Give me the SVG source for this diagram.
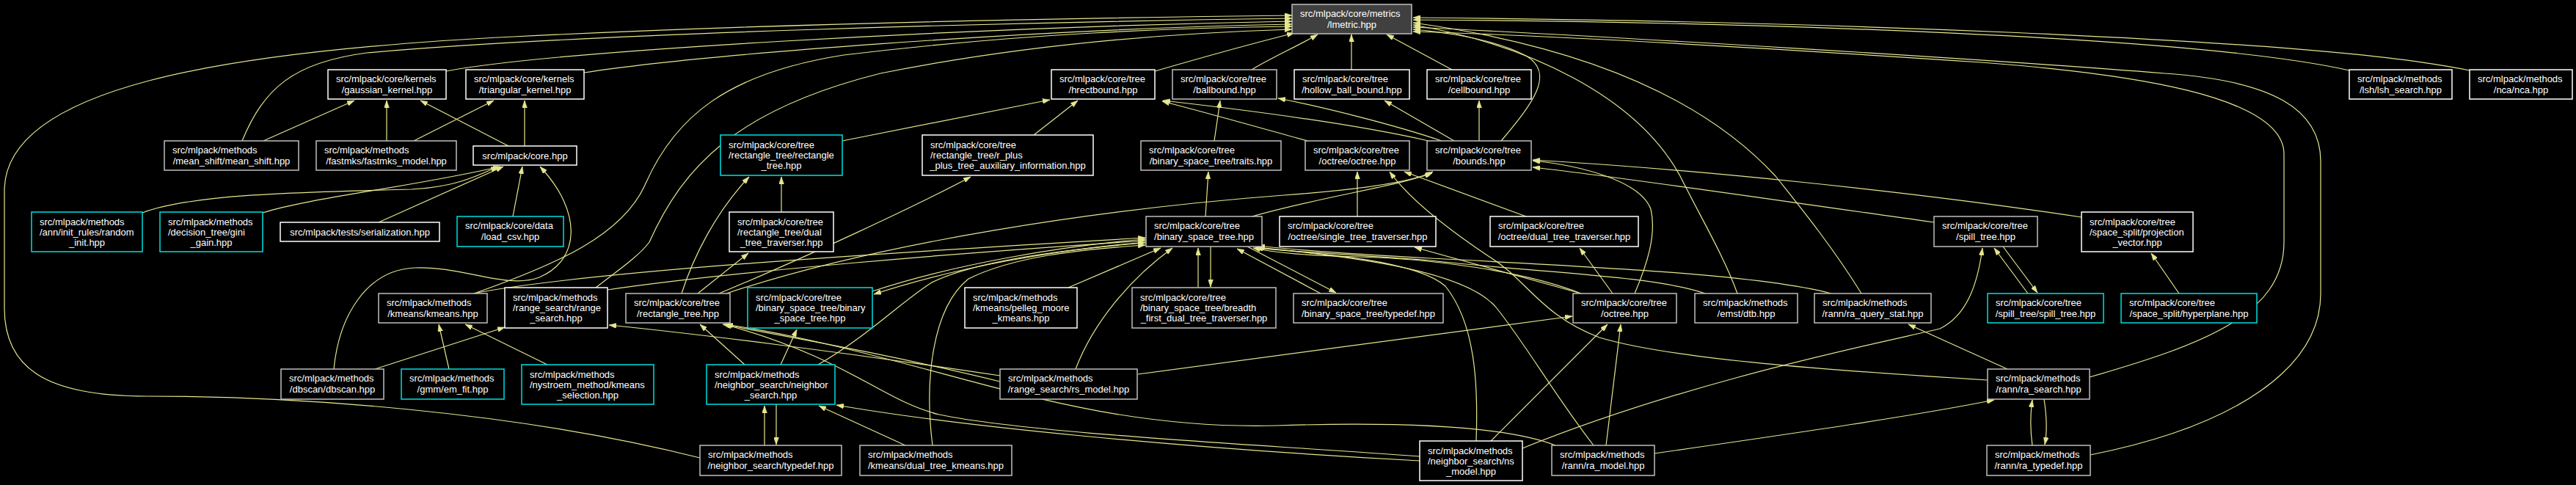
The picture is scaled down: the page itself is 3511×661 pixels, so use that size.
<svg xmlns="http://www.w3.org/2000/svg" width="3511" height="661" viewBox="0 0 3511 661">
<defs>
<marker id="a" viewBox="0 0 10 7" refX="10" refY="3.5" markerWidth="10" markerHeight="7" markerUnits="userSpaceOnUse" orient="auto"><path d="M0,0 L10,3.5 L0,7 z" fill="#e6e68f" stroke="#e6e68f" stroke-width="0.5"/></marker>
<style>
.node rect{fill:#000;stroke:#ffffff;stroke-width:1.5}
.node.g rect{stroke:#bfbfbf}
.node.c rect{stroke:#00e0e0}
.node.root rect{fill:#404040;stroke:#bfbfbf}
text{font-family:"Liberation Sans",Arial,Helvetica,sans-serif;font-size:13px;fill:#ffffff}
text.m{text-anchor:middle}
#edges path{fill:none;stroke:#e6e68f;stroke-width:1.2;marker-end:url(#a)}
</style>
</defs>
<rect x="0" y="0" width="3511" height="661" fill="#000"/>
<g id="edges">
<path d="M608,97 C750,70 1300,38 1761,29"/>
<path d="M796,99 C950,75 1400,40 1761,33"/>
<path d="M330,192 C360,120 400,85 500,72 C800,45 1400,30 1761,25"/>
<path d="M954,624 C700,560 400,540 200,540 C60,540 6,500 6,420 L6,260 C6,120 300,70 700,50 C1100,30 1500,24 1761,21"/>
<path d="M1574,97 C1650,75 1720,56 1764,45"/>
<path d="M1706,95 C1730,80 1770,62 1796,47"/>
<path d="M1842,95 L1842,47"/>
<path d="M1979,95 L1890,47"/>
<path d="M2046,192 C2090,140 2120,100 2080,76 C2040,55 1980,45 1926,40"/>
<path d="M3202,96 C3000,50 2400,30 1926,27"/>
<path d="M3366,96 C3150,50 2400,28 1926,24"/>
<path d="M2849,620 C3050,580 3163,500 3163,400 L3163,220 C3163,150 3100,110 2950,100 C2700,80 2200,50 1926,37"/>
<path d="M2848,514 C3000,470 3113,430 3113,330 L3113,210 C3113,130 2900,100 2700,85 C2400,65 2100,48 1926,43"/>
<path d="M2368,400 C2350,350 2320,300 2290,240 C2230,130 2080,60 1926,34"/>
<path d="M2537,400 C2500,340 2460,290 2420,240 C2300,110 2100,55 1926,31"/>
<path d="M646,400 C760,360 850,320 880,250 C920,160 990,100 1150,75 C1400,45 1600,38 1761,36"/>
<path d="M812,392 C840,370 870,350 885,330 C930,230 1000,150 1200,100 C1400,60 1600,45 1761,40"/>
<path d="M693,199 L573,137"/>
<path d="M715,199 L715,137"/>
<path d="M359,192 L483,137"/>
<path d="M527,192 L527,137"/>
<path d="M564,192 L673,137"/>
<path d="M194,290 C260,265 400,262 561,258 C620,255 650,240 679,227"/>
<path d="M358,290 C420,270 560,255 682,227"/>
<path d="M516,303 L686,227"/>
<path d="M699,295 L712,227"/>
<path d="M455,503 C462,430 500,368 565,365 C630,362 690,395 735,378 C790,355 795,290 736,227"/>
<path d="M511,503 L688,446"/>
<path d="M612,503 L598,442"/>
<path d="M746,497 L634,442"/>
<path d="M645,400 C800,370 1200,345 1561,324"/>
<path d="M828,395 C1000,370 1300,345 1561,328"/>
<path d="M1363,512 C1150,480 950,455 830,443"/>
<path d="M929,400 C945,350 975,290 1021,241"/>
<path d="M951,400 L1020,345"/>
<path d="M980,400 C1100,350 1250,280 1323,241"/>
<path d="M990,400 C1200,330 1500,285 1750,266 C1860,258 1925,248 1953,234"/>
<path d="M1148,192 L1431,136"/>
<path d="M1409,184 L1469,137"/>
<path d="M1065,289 L1065,241"/>
<path d="M1015,497 L954,442"/>
<path d="M1363,520 C1200,480 1050,455 985,442"/>
<path d="M1935,622 C1700,605 1400,590 1280,565 C1200,545 1160,490 987,442"/>
<path d="M2120,607 C2050,580 1900,575 1740,580 C1550,585 1400,540 1250,500 C1100,460 1040,450 989,442"/>
<path d="M1064,497 L1086,449"/>
<path d="M1115,497 C1180,460 1230,410 1270,385 C1330,355 1450,340 1561,331"/>
<path d="M1042,607 L1042,553"/>
<path d="M1058,551 L1058,606"/>
<path d="M1234,607 L1116,553"/>
<path d="M1935,628 C1600,610 1300,580 1140,552"/>
<path d="M1271,607 C1260,520 1270,420 1320,380 C1380,350 1470,340 1561,334"/>
<path d="M1456,392 L1582,338"/>
<path d="M1466,503 C1490,440 1540,380 1598,338"/>
<path d="M1551,510 L2143,431"/>
<path d="M1633,392 L1633,338"/>
<path d="M1650,336 L1650,391"/>
<path d="M1189,397 C1300,360 1450,335 1561,326"/>
<path d="M1562,330 C1440,340 1300,365 1191,401"/>
<path d="M1643,295 L1647,234"/>
<path d="M1655,192 L1663,137"/>
<path d="M1800,400 L1686,339"/>
<path d="M1700,336 L1821,399"/>
<path d="M2155,400 C2080,370 1950,352 1850,350 C1780,348 1740,345 1708,338"/>
<path d="M2324,400 C2250,375 2100,372 1950,355 C1820,345 1750,343 1711,337"/>
<path d="M2496,400 C2400,375 2200,365 1950,352 C1820,345 1760,340 1714,335"/>
<path d="M2012,601 C2015,520 2010,440 1970,390 C1930,355 1800,345 1711,338"/>
<path d="M2172,607 C2120,540 2080,470 2040,420 C2000,370 1850,350 1713,337"/>
<path d="M2709,518 C2500,505 2280,490 2180,460 C2100,430 2080,380 2030,350 C1970,310 1920,270 1894,234"/>
<path d="M2155,400 L1928,337"/>
<path d="M2198,400 L2153,338"/>
<path d="M2228,400 C2245,360 2258,320 2250,285 C2235,245 2150,225 2089,219"/>
<path d="M1850,295 L1850,234"/>
<path d="M2080,295 L1914,234"/>
<path d="M1782,192 C1720,175 1650,155 1584,138"/>
<path d="M1947,192 C1850,170 1700,150 1585,137"/>
<path d="M1965,192 C1900,170 1800,145 1742,134"/>
<path d="M1982,192 L1887,137"/>
<path d="M2016,192 L2016,137"/>
<path d="M1703,296 C1800,268 1900,255 1952,236"/>
<path d="M2636,303 C2400,270 2200,240 2089,228"/>
<path d="M2837,296 C2600,260 2300,230 2089,218"/>
<path d="M2764,400 L2718,338"/>
<path d="M2730,336 L2777,399"/>
<path d="M2970,400 L2932,345"/>
<path d="M2032,601 L2191,442"/>
<path d="M2189,607 L2209,442"/>
<path d="M2075,611 C2300,520 2550,470 2644,448 C2680,430 2695,390 2702,338"/>
<path d="M2736,503 L2601,442"/>
<path d="M2255,618 C2450,590 2620,565 2718,545"/>
<path d="M2786,544 C2790,570 2790,590 2787,606"/>
<path d="M2770,607 C2767,585 2767,565 2770,545"/>
</g>
<g id="n_lmetric" class="node root"><rect x="1761" y="6" width="163" height="40"/><text x="1772" y="22.5">src/mlpack/core/metrics</text><text class="m" x="1842.5" y="37.5">/lmetric.hpp</text></g>
<g id="n_gaussian_kernel" class="node"><rect x="447" y="95" width="161" height="40"/><text x="458" y="111.5">src/mlpack/core/kernels</text><text class="m" x="527.5" y="126.5">/gaussian_kernel.hpp</text></g>
<g id="n_triangular_kernel" class="node"><rect x="635" y="95" width="161" height="40"/><text x="646" y="111.5">src/mlpack/core/kernels</text><text class="m" x="715.5" y="126.5">/triangular_kernel.hpp</text></g>
<g id="n_mean_shift" class="node g"><rect x="224" y="192" width="183" height="40"/><text x="235" y="208.5">src/mlpack/methods</text><text class="m" x="315.5" y="223.5">/mean_shift/mean_shift.hpp</text></g>
<g id="n_fastmks_model" class="node g"><rect x="431" y="192" width="191" height="40"/><text x="442" y="208.5">src/mlpack/methods</text><text class="m" x="526.5" y="223.5">/fastmks/fastmks_model.hpp</text></g>
<g id="n_core" class="node"><rect x="645" y="199" width="141" height="26"/><text class="m" x="715.5" y="216.5">src/mlpack/core.hpp</text></g>
<g id="n_random_init" class="node c"><rect x="43" y="289" width="151" height="54"/><text x="54" y="306.5">src/mlpack/methods</text><text x="54" y="320.5">/ann/init_rules/random</text><text class="m" x="118.5" y="335">_init.hpp</text></g>
<g id="n_gini_gain" class="node c"><rect x="218" y="289" width="140" height="54"/><text x="229" y="306.5">src/mlpack/methods</text><text x="229" y="320.5">/decision_tree/gini</text><text class="m" x="288" y="335">_gain.hpp</text></g>
<g id="n_serialization" class="node"><rect x="382" y="303" width="217" height="26"/><text class="m" x="490.5" y="320.5">src/mlpack/tests/serialization.hpp</text></g>
<g id="n_load_csv" class="node c"><rect x="623" y="295" width="145" height="41"/><text x="634" y="311.5">src/mlpack/core/data</text><text class="m" x="695.5" y="326.5">/load_csv.hpp</text></g>
<g id="n_hrectbound" class="node"><rect x="1433" y="95" width="141" height="40"/><text x="1444" y="111.5">src/mlpack/core/tree</text><text class="m" x="1503.5" y="126.5">/hrectbound.hpp</text></g>
<g id="n_ballbound" class="node g"><rect x="1598" y="95" width="142" height="40"/><text x="1609" y="111.5">src/mlpack/core/tree</text><text class="m" x="1669" y="126.5">/ballbound.hpp</text></g>
<g id="n_rt_rectangle_tree" class="node c"><rect x="982" y="184" width="166" height="55"/><text x="993" y="201.5">src/mlpack/core/tree</text><text x="993" y="215.5">/rectangle_tree/rectangle</text><text class="m" x="1065" y="230">_tree.hpp</text></g>
<g id="n_r_plus_plus" class="node"><rect x="1257" y="184" width="233" height="55"/><text x="1268" y="201.5">src/mlpack/core/tree</text><text x="1268" y="215.5">/rectangle_tree/r_plus</text><text class="m" x="1373.5" y="230">_plus_tree_auxiliary_information.hpp</text></g>
<g id="n_traits" class="node g"><rect x="1555" y="192" width="191" height="40"/><text x="1566" y="208.5">src/mlpack/core/tree</text><text class="m" x="1650.5" y="223.5">/binary_space_tree/traits.hpp</text></g>
<g id="n_rt_dual_tree_traverser" class="node"><rect x="994" y="289" width="142" height="54"/><text x="1005" y="306.5">src/mlpack/core/tree</text><text x="1005" y="320.5">/rectangle_tree/dual</text><text class="m" x="1065" y="335">_tree_traverser.hpp</text></g>
<g id="n_binary_space_tree" class="node g"><rect x="1562" y="295" width="158" height="41"/><text x="1573" y="311.5">src/mlpack/core/tree</text><text class="m" x="1641" y="326.5">/binary_space_tree.hpp</text></g>
<g id="n_hollow_ball_bound" class="node"><rect x="1764" y="95" width="157" height="40"/><text x="1775" y="111.5">src/mlpack/core/tree</text><text class="m" x="1842.5" y="126.5">/hollow_ball_bound.hpp</text></g>
<g id="n_cellbound" class="node"><rect x="1945" y="95" width="142" height="40"/><text x="1956" y="111.5">src/mlpack/core/tree</text><text class="m" x="2016" y="126.5">/cellbound.hpp</text></g>
<g id="n_octree_octree" class="node g"><rect x="1779" y="192" width="142" height="40"/><text x="1790" y="208.5">src/mlpack/core/tree</text><text class="m" x="1850" y="223.5">/octree/octree.hpp</text></g>
<g id="n_bounds" class="node g"><rect x="1945" y="192" width="142" height="40"/><text x="1956" y="208.5">src/mlpack/core/tree</text><text class="m" x="2016" y="223.5">/bounds.hpp</text></g>
<g id="n_oct_single" class="node"><rect x="1744" y="295" width="213" height="41"/><text x="1755" y="311.5">src/mlpack/core/tree</text><text class="m" x="1850.5" y="326.5">/octree/single_tree_traverser.hpp</text></g>
<g id="n_oct_dual" class="node"><rect x="2031" y="295" width="202" height="41"/><text x="2042" y="311.5">src/mlpack/core/tree</text><text class="m" x="2132" y="326.5">/octree/dual_tree_traverser.hpp</text></g>
<g id="n_lsh_search" class="node"><rect x="3202" y="95" width="140" height="40"/><text x="3213" y="111.5">src/mlpack/methods</text><text class="m" x="3272" y="126.5">/lsh/lsh_search.hpp</text></g>
<g id="n_nca" class="node"><rect x="3366" y="95" width="140" height="40"/><text x="3377" y="111.5">src/mlpack/methods</text><text class="m" x="3436" y="126.5">/nca/nca.hpp</text></g>
<g id="n_spill_tree" class="node g"><rect x="2636" y="295" width="141" height="41"/><text x="2647" y="311.5">src/mlpack/core/tree</text><text class="m" x="2706.5" y="326.5">/spill_tree.hpp</text></g>
<g id="n_projection_vector" class="node"><rect x="2837" y="289" width="152" height="54"/><text x="2848" y="306.5">src/mlpack/core/tree</text><text x="2848" y="320.5">/space_split/projection</text><text class="m" x="2913" y="335">_vector.hpp</text></g>
<g id="n_kmeans" class="node g"><rect x="516" y="400" width="148" height="40"/><text x="527" y="416.5">src/mlpack/methods</text><text class="m" x="590" y="431.5">/kmeans/kmeans.hpp</text></g>
<g id="n_range_search" class="node"><rect x="688" y="392" width="140" height="55"/><text x="699" y="409.5">src/mlpack/methods</text><text x="699" y="423.5">/range_search/range</text><text class="m" x="758" y="438">_search.hpp</text></g>
<g id="n_rectangle_tree" class="node g"><rect x="853" y="400" width="142" height="40"/><text x="864" y="416.5">src/mlpack/core/tree</text><text class="m" x="924" y="431.5">/rectangle_tree.hpp</text></g>
<g id="n_dbscan" class="node g"><rect x="383" y="503" width="140" height="41"/><text x="394" y="519.5">src/mlpack/methods</text><text class="m" x="453" y="534.5">/dbscan/dbscan.hpp</text></g>
<g id="n_em_fit" class="node c"><rect x="547" y="503" width="140" height="41"/><text x="558" y="519.5">src/mlpack/methods</text><text class="m" x="617" y="534.5">/gmm/em_fit.hpp</text></g>
<g id="n_kmeans_selection" class="node c"><rect x="711" y="497" width="180" height="54"/><text x="722" y="514.5">src/mlpack/methods</text><text x="722" y="528.5">/nystroem_method/kmeans</text><text class="m" x="801" y="543">_selection.hpp</text></g>
<g id="n_bst_binary_space_tree" class="node c"><rect x="1019" y="392" width="170" height="55"/><text x="1030" y="409.5">src/mlpack/core/tree</text><text x="1030" y="423.5">/binary_space_tree/binary</text><text class="m" x="1104" y="438">_space_tree.hpp</text></g>
<g id="n_pelleg_moore" class="node"><rect x="1315" y="392" width="153" height="55"/><text x="1326" y="409.5">src/mlpack/methods</text><text x="1326" y="423.5">/kmeans/pelleg_moore</text><text class="m" x="1391.5" y="438">_kmeans.hpp</text></g>
<g id="n_breadth_first" class="node g"><rect x="1543" y="392" width="196" height="55"/><text x="1554" y="409.5">src/mlpack/core/tree</text><text x="1554" y="423.5">/binary_space_tree/breadth</text><text class="m" x="1641" y="438">_first_dual_tree_traverser.hpp</text></g>
<g id="n_neighbor_search" class="node c"><rect x="963" y="497" width="175" height="54"/><text x="974" y="514.5">src/mlpack/methods</text><text x="974" y="528.5">/neighbor_search/neighbor</text><text class="m" x="1050.5" y="543">_search.hpp</text></g>
<g id="n_rs_model" class="node g"><rect x="1363" y="503" width="187" height="41"/><text x="1374" y="519.5">src/mlpack/methods</text><text class="m" x="1456.5" y="534.5">/range_search/rs_model.hpp</text></g>
<g id="n_ns_typedef" class="node g"><rect x="954" y="607" width="193" height="41"/><text x="965" y="623.5">src/mlpack/methods</text><text class="m" x="1050.5" y="638.5">/neighbor_search/typedef.hpp</text></g>
<g id="n_dual_tree_kmeans" class="node g"><rect x="1172" y="607" width="207" height="41"/><text x="1183" y="623.5">src/mlpack/methods</text><text class="m" x="1275.5" y="638.5">/kmeans/dual_tree_kmeans.hpp</text></g>
<g id="n_bst_typedef" class="node g"><rect x="1763" y="400" width="204" height="40"/><text x="1774" y="416.5">src/mlpack/core/tree</text><text class="m" x="1865" y="431.5">/binary_space_tree/typedef.hpp</text></g>
<g id="n_octree" class="node g"><rect x="2144" y="400" width="141" height="40"/><text x="2155" y="416.5">src/mlpack/core/tree</text><text class="m" x="2214.5" y="431.5">/octree.hpp</text></g>
<g id="n_dtb" class="node g"><rect x="2310" y="400" width="140" height="40"/><text x="2321" y="416.5">src/mlpack/methods</text><text class="m" x="2380" y="431.5">/emst/dtb.hpp</text></g>
<g id="n_ra_query_stat" class="node g"><rect x="2473" y="400" width="159" height="40"/><text x="2484" y="416.5">src/mlpack/methods</text><text class="m" x="2552.5" y="431.5">/rann/ra_query_stat.hpp</text></g>
<g id="n_ns_model" class="node"><rect x="1935" y="601" width="140" height="54"/><text x="1946" y="618.5">src/mlpack/methods</text><text x="1946" y="632.5">/neighbor_search/ns</text><text class="m" x="2005" y="647">_model.hpp</text></g>
<g id="n_ra_model" class="node g"><rect x="2115" y="607" width="140" height="41"/><text x="2126" y="623.5">src/mlpack/methods</text><text class="m" x="2185" y="638.5">/rann/ra_model.hpp</text></g>
<g id="n_spill_spill_tree" class="node c"><rect x="2709" y="400" width="158" height="40"/><text x="2720" y="416.5">src/mlpack/core/tree</text><text class="m" x="2788" y="431.5">/spill_tree/spill_tree.hpp</text></g>
<g id="n_hyperplane" class="node c"><rect x="2891" y="400" width="185" height="40"/><text x="2902" y="416.5">src/mlpack/core/tree</text><text class="m" x="2983.5" y="431.5">/space_split/hyperplane.hpp</text></g>
<g id="n_ra_search" class="node g"><rect x="2709" y="503" width="139" height="41"/><text x="2720" y="519.5">src/mlpack/methods</text><text class="m" x="2778.5" y="534.5">/rann/ra_search.hpp</text></g>
<g id="n_ra_typedef" class="node g"><rect x="2708" y="607" width="141" height="41"/><text x="2719" y="623.5">src/mlpack/methods</text><text class="m" x="2778.5" y="638.5">/rann/ra_typedef.hpp</text></g>
</svg>
